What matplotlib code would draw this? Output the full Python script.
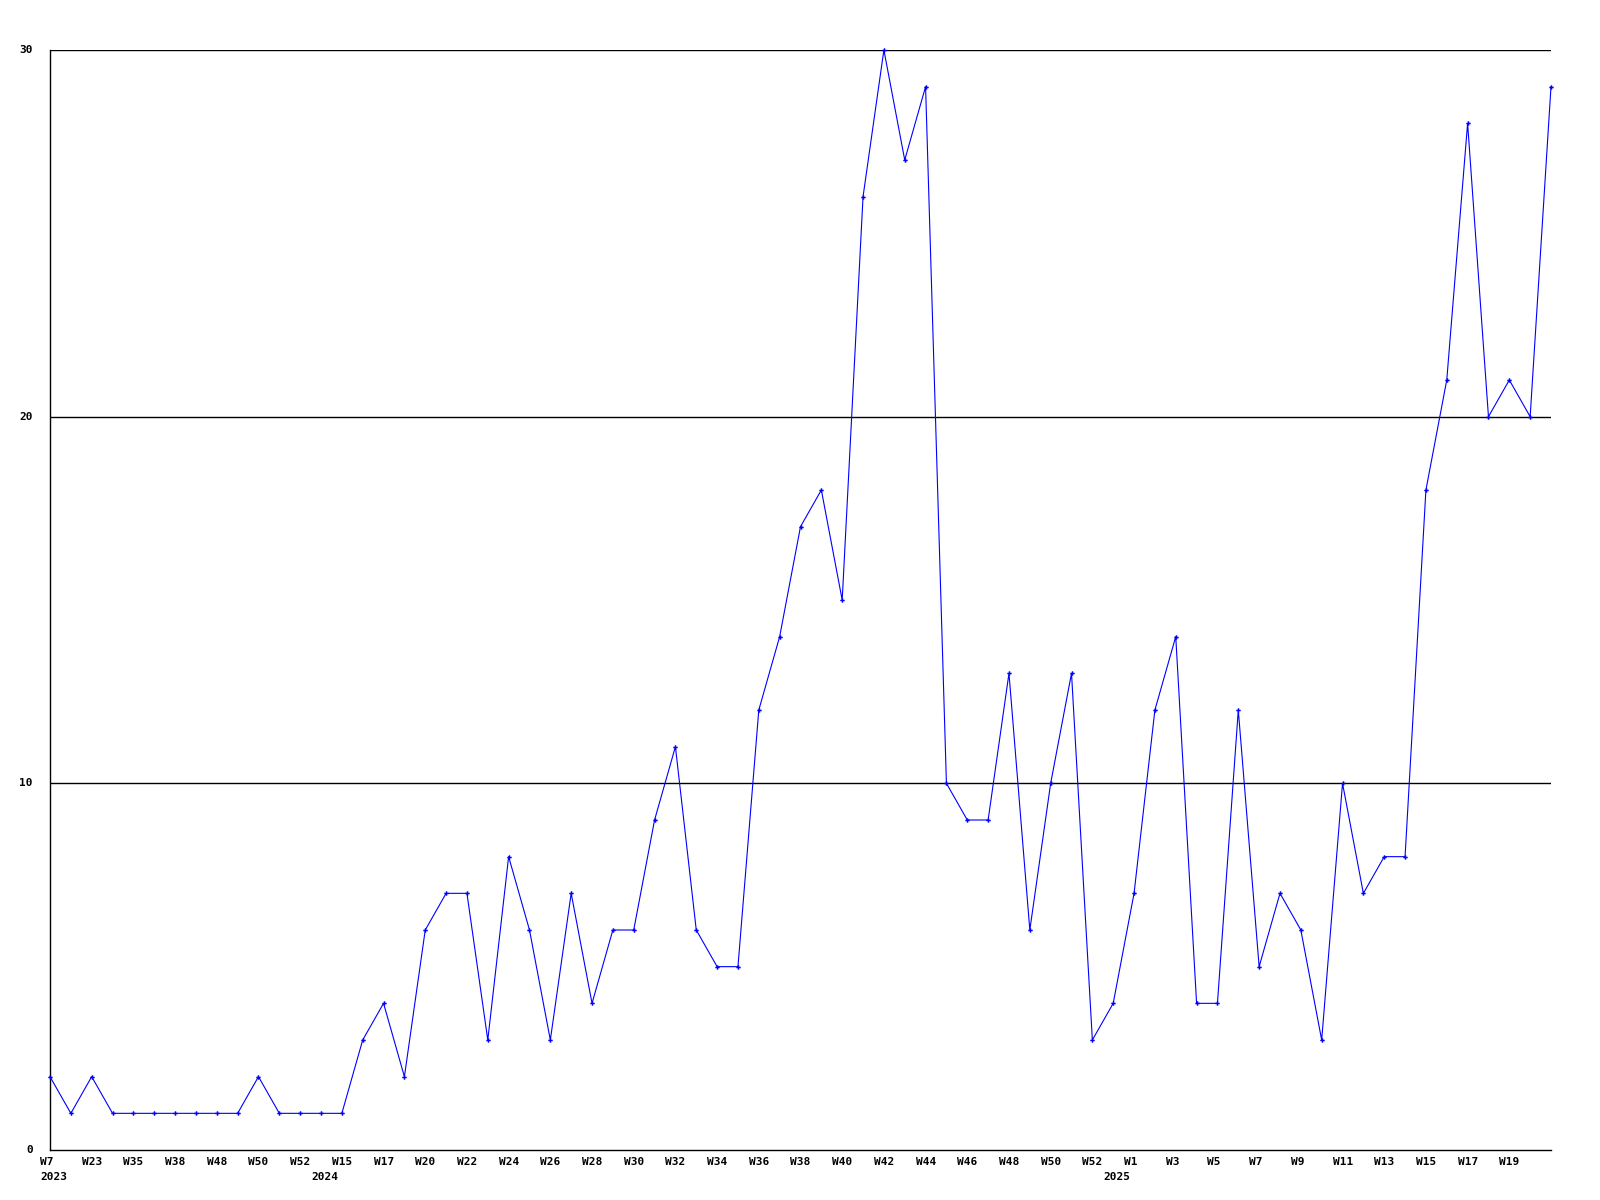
import matplotlib
matplotlib.use("Agg")
import matplotlib.pyplot as plt
from matplotlib.transforms import ScaledTranslation

values = [2, 1, 2, 1, 1, 1, 1, 1, 1, 1, 2, 1, 1, 1, 1, 3, 4, 2, 6, 7,
          7, 3, 8, 6, 3, 7, 4, 6, 6, 9, 11, 6, 5, 5, 12, 14, 17, 18, 15, 26,
          30, 27, 29, 10, 9, 9, 13, 6, 10, 13, 3, 4, 7, 12, 14, 4, 4, 12, 5, 7,
          6, 3, 10, 7, 8, 8, 18, 21, 28, 20, 21, 20, 29]

week_labels = ["W7", "W23", "W35", "W38", "W48", "W50", "W52", "W15", "W17", "W20",
               "W22", "W24", "W26", "W28", "W30", "W32", "W34", "W36", "W38", "W40",
               "W42", "W44", "W46", "W48", "W50", "W52", "W1", "W3", "W5", "W7",
               "W9", "W11", "W13", "W15", "W17", "W19"]
week_label_pos = list(range(0, 72, 2))

year_labels = ["2023", "2024", "2025"]
year_label_pos = [0, 13, 51]

y_ticks = [0, 10, 20, 30]

font = dict(family="DejaVu Sans Mono", weight="bold", size=8)

fig = plt.figure(figsize=(16, 12), dpi=100)
ax = fig.add_axes([50 / 1600, 1 - 1150 / 1200, 1501 / 1600, 1100 / 1200])

x = list(range(len(values)))
ax.plot(x, values, color="#0000ff", linewidth=0.8, marker="P", markersize=3.2,
        markeredgewidth=0, clip_on=False, zorder=3)

ax.set_xlim(0, len(values) - 1)
ax.set_ylim(0, 30)

for yv in y_ticks[1:]:
    ax.axhline(yv, color="black", linewidth=1.0, zorder=1)

for s in ["top", "right"]:
    ax.spines[s].set_visible(False)
for s in ["left", "bottom"]:
    ax.spines[s].set_linewidth(1.0)
    ax.spines[s].set_color("black")

ax.set_xticks([])
ax.set_yticks([])

for p, lab in zip(week_label_pos, week_labels):
    ax.text(p, 0, lab, transform=ax.get_xaxis_transform() + ScaledTranslation(-0.10, -0.12, fig.dpi_scale_trans),
            ha="left", va="center", **font)
for p, lab in zip(year_label_pos, year_labels):
    ax.text(p, 0, lab, transform=ax.get_xaxis_transform() + ScaledTranslation(-0.10, -0.27, fig.dpi_scale_trans),
            ha="left", va="center", **font)

for yv in y_ticks:
    ax.text(0, yv, str(yv), transform=ax.get_yaxis_transform() + ScaledTranslation(-0.17, 0, fig.dpi_scale_trans),
            ha="right", va="center", **font)

fig.savefig("out.png", dpi=100, facecolor="white")
